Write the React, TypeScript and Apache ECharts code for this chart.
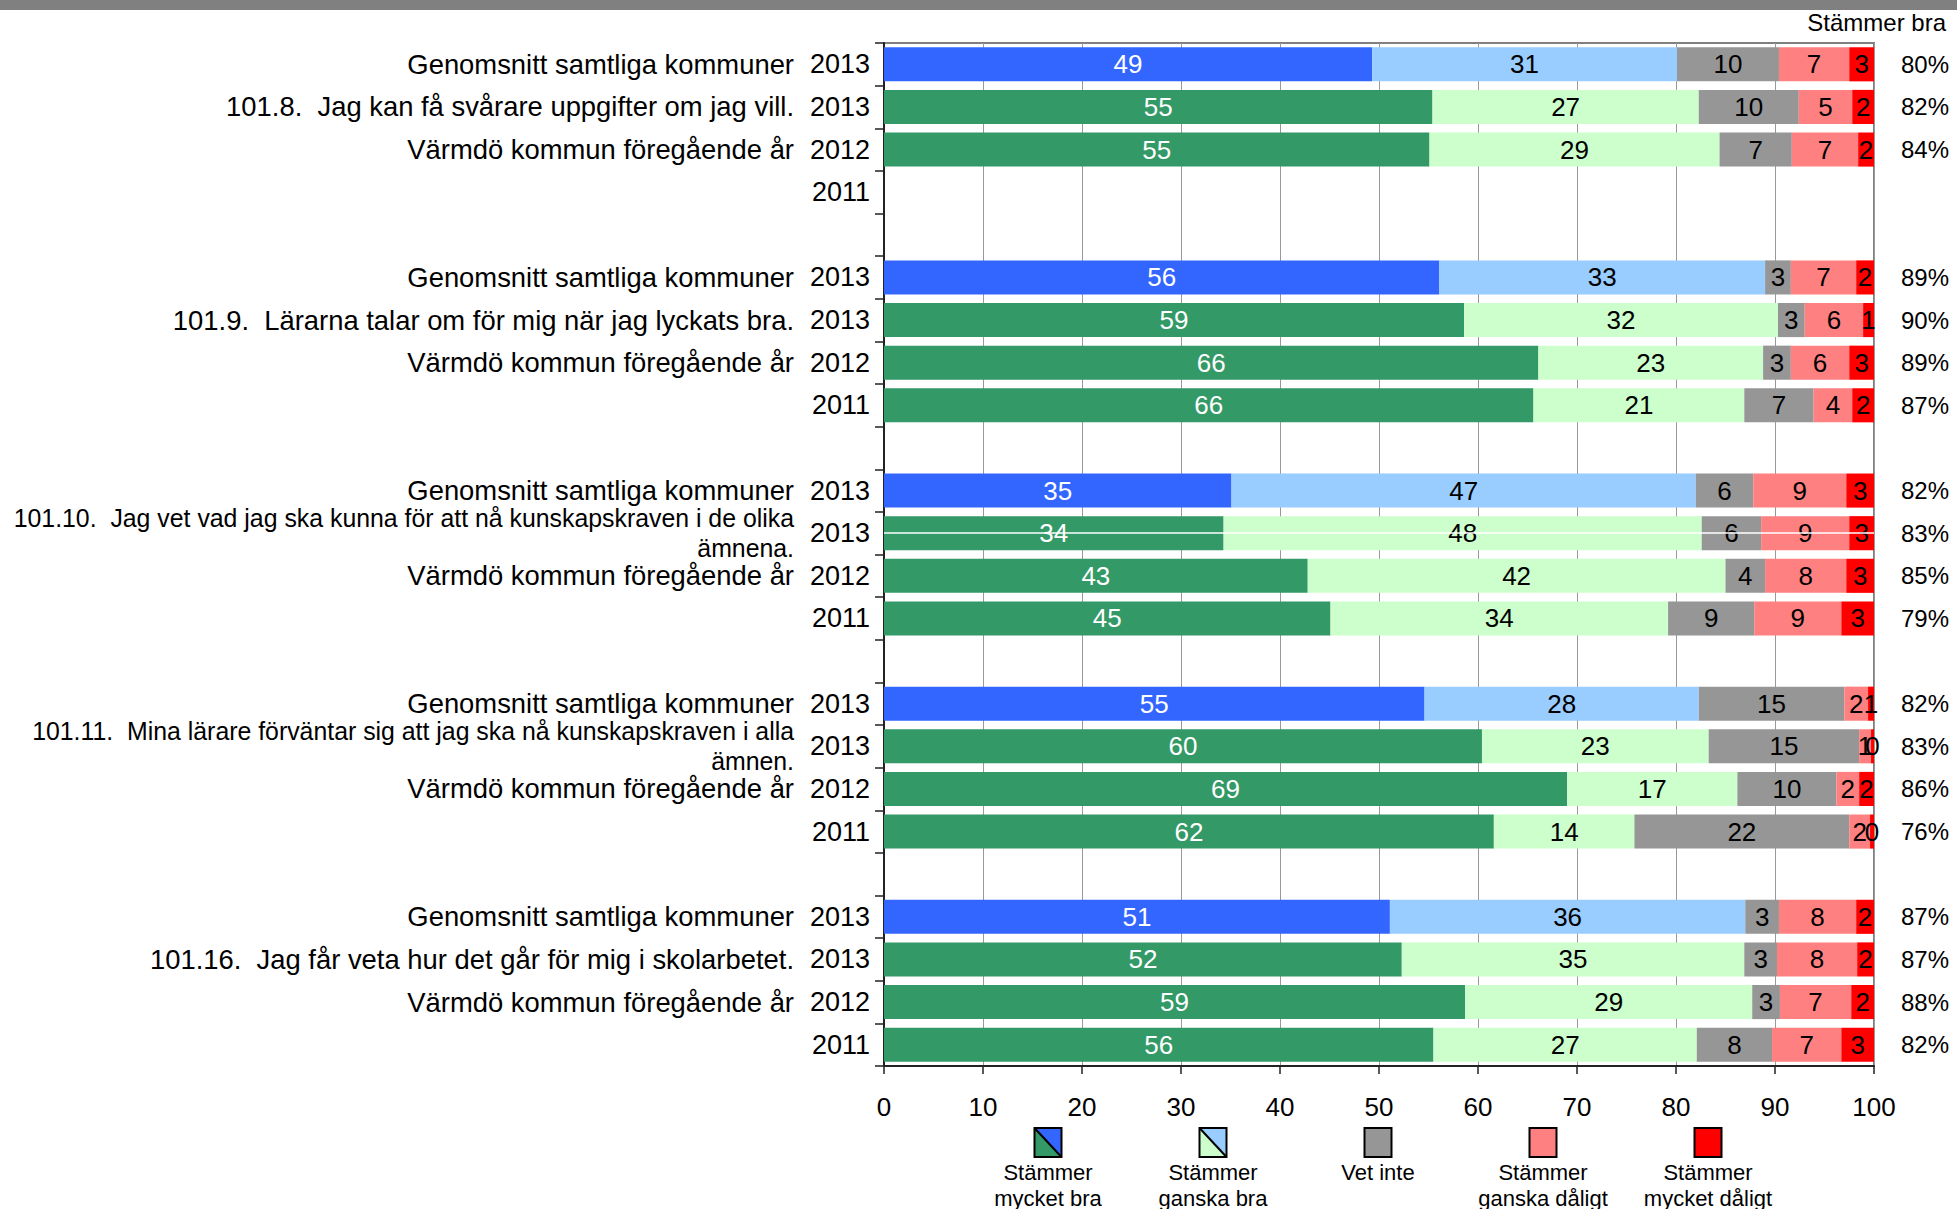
import React, { useEffect, useRef } from 'react';
import * as echarts from 'echarts';

const FONT = '"Liberation Sans", Arial, Helvetica, sans-serif';

// Row labels (top to bottom); blank strings are separator rows
const rowLabels = [
  'Genomsnitt samtliga kommuner',
  '101.8.  Jag kan få svårare uppgifter om jag vill.',
  'Värmdö kommun föregående år',
  '',
  '',
  'Genomsnitt samtliga kommuner',
  '101.9.  Lärarna talar om för mig när jag lyckats bra.',
  'Värmdö kommun föregående år',
  '',
  '',
  'Genomsnitt samtliga kommuner',
  '101.10.  Jag vet vad jag ska kunna för att nå kunskapskraven i de olika\nämnena.',
  'Värmdö kommun föregående år',
  '',
  '',
  'Genomsnitt samtliga kommuner',
  '101.11.  Mina lärare förväntar sig att jag ska nå kunskapskraven i alla\nämnen.',
  'Värmdö kommun föregående år',
  '',
  '',
  'Genomsnitt samtliga kommuner',
  '101.16.  Jag får veta hur det går för mig i skolarbetet.',
  'Värmdö kommun föregående år',
  '',
];

const rowYears = [
  '2013', '2013', '2012', '2011', '',
  '2013', '2013', '2012', '2011', '',
  '2013', '2013', '2012', '2011', '',
  '2013', '2013', '2012', '2011', '',
  '2013', '2013', '2012', '2011',
];

// 'avg' = average of all municipalities (blue), 'own' = Värmdö (green)
const rowKinds = [
  'avg', 'own', 'own', 'own', '',
  'avg', 'own', 'own', 'own', '',
  'avg', 'own', 'own', 'own', '',
  'avg', 'own', 'own', 'own', '',
  'avg', 'own', 'own', 'own',
];

const seriesNames = [
  'Stämmer mycket bra',
  'Stämmer ganska bra',
  'Vet inte',
  'Stämmer ganska dåligt',
  'Stämmer mycket dåligt',
];

const mycketBra = [
  49.3, 55.4, 55.1, null, null,
  56.1, 58.6, 66.1, 65.6, null,
  35.1, 34.3, 42.8, 45.1, null,
  54.6, 60.4, 69.0, 61.6, null,
  51.1, 52.3, 58.7, 55.5,
];
const ganskaBra = [
  30.8, 26.9, 29.3, null, null,
  32.9, 31.7, 22.7, 21.3, null,
  46.9, 48.3, 42.2, 34.1, null,
  27.7, 22.9, 17.2, 14.2, null,
  35.9, 34.6, 29.0, 26.6,
];
const vetInte = [
  10.3, 10.1, 7.3, null, null,
  2.6, 2.7, 2.8, 7.0, null,
  5.8, 6.0, 4.0, 8.7, null,
  14.7, 15.2, 10.0, 21.7, null,
  3.4, 3.3, 2.8, 7.6,
];
const ganskaDaligt = [
  7.1, 5.4, 6.7, null, null,
  6.6, 5.9, 5.9, 3.9, null,
  9.4, 8.9, 8.2, 8.8, null,
  2.4, 1.2, 2.3, 2.1, null,
  7.8, 8.1, 7.2, 7.0,
];
const mycketDaligt = [
  2.5, 2.2, 1.6, null, null,
  1.8, 1.1, 2.5, 2.2, null,
  2.8, 2.5, 2.8, 3.3, null,
  0.6, 0.3, 1.5, 0.4, null,
  1.8, 1.7, 2.3, 3.3,
];

// "Stämmer bra" column (percent)
const stammerBra = [
  80, 82, 84, null, null,
  89, 90, 89, 87, null,
  82, 83, 85, 79, null,
  82, 83, 86, 76, null,
  87, 87, 88, 82,
];

const legendNames = [
  'Stämmer\nmycket bra',
  'Stämmer\nganska bra',
  'Vet inte',
  'Stämmer\nganska dåligt',
  'Stämmer\nmycket dåligt',
];

const AVG_COLORS = ['#3366FF', '#99CCFF'];
const OWN_COLORS = ['#339966', '#CCFFCC'];
const OTHER_COLORS = ['#969696', '#FF8080', '#FF0000'];

function buildOption() {
  const allValues = [mycketBra, ganskaBra, vetInte, ganskaDaligt, mycketDaligt];
  const categories = rowLabels.map((_, i) => String(i));

  const series = allValues.map((vals, si) => ({
    name: seriesNames[si],
    type: 'bar',
    stack: 'total',
    barCategoryGap: '20%',
    yAxisIndex: 0,
    data: vals.map((v, i) => {
      if (v == null) return null;
      let color;
      if (si < 2) color = rowKinds[i] === 'avg' ? AVG_COLORS[si] : OWN_COLORS[si];
      else color = OTHER_COLORS[si - 2];
      return { value: v, itemStyle: { color } };
    }),
    label: {
      show: true,
      position: 'inside',
      fontFamily: FONT,
      fontSize: 26,
      color: si === 0 ? '#FFFFFF' : '#000000',
      formatter: (p: any) => (p.value == null ? '' : String(Math.round(p.value))),
    },
    ...(si === 4
      ? {
          markLine: {
            silent: true,
            symbol: 'none',
            label: { show: false },
            lineStyle: { color: '#FFFFFF', width: 1.5, type: 'solid' },
            data: [{ yAxis: 11 }],
            z: 10,
          },
        }
      : {}),
  }));

  // Legend drawn as graphic elements (swatch above two-line text)
  const legendGraphics: any[] = [];
  const legendSwatches: string[][] = [
    [OWN_COLORS[0], AVG_COLORS[0]],
    [OWN_COLORS[1], AVG_COLORS[1]],
    [OTHER_COLORS[0]],
    [OTHER_COLORS[1]],
    [OTHER_COLORS[2]],
  ];
  const w = 27;
  const h = 29;
  legendNames.forEach((name, i) => {
    const cx = 1048 + i * 165;
    const x0 = cx - w / 2;
    const y0 = 1128;
    const sw = legendSwatches[i];
    const children: any[] = [];
    if (sw.length === 2) {
      children.push({
        type: 'polygon',
        shape: { points: [[0, 0], [0, h], [w, h]] },
        style: { fill: sw[0] },
      });
      children.push({
        type: 'polygon',
        shape: { points: [[0, 0], [w, 0], [w, h]] },
        style: { fill: sw[1] },
      });
      children.push({
        type: 'line',
        shape: { x1: 0, y1: 0, x2: w, y2: h },
        style: { stroke: '#000', lineWidth: 2 },
      });
      children.push({
        type: 'rect',
        shape: { x: 0, y: 0, width: w, height: h },
        style: { fill: 'none', stroke: '#000', lineWidth: 2 },
      });
    } else {
      children.push({
        type: 'rect',
        shape: { x: 0, y: 0, width: w, height: h },
        style: { fill: sw[0], stroke: '#000', lineWidth: 2 },
      });
    }
    legendGraphics.push({ type: 'group', x: x0, y: y0, children });
    legendGraphics.push({
      type: 'text',
      x: cx,
      y: 1159,
      style: {
        text: name,
        fill: '#000',
        fontFamily: FONT,
        fontSize: 22,
        lineHeight: 26,
        align: 'center',
        verticalAlign: 'top',
      },
    });
  });

  return {
    animation: false,
    backgroundColor: '#FFFFFF',
    textStyle: { fontFamily: FONT },
    grid: {
      left: 884,
      right: 83,
      top: 43,
      bottom: 143,
      show: true,
      borderColor: '#808080',
      borderWidth: 2,
      backgroundColor: 'transparent',
    },
    xAxis: {
      type: 'value',
      min: 0,
      max: 100,
      interval: 10,
      axisLine: { show: true, lineStyle: { color: '#222', width: 2 } },
      axisTick: { show: true, length: 8, lineStyle: { color: '#222', width: 1.5 } },
      axisLabel: { color: '#000', fontFamily: FONT, fontSize: 26, margin: 28 },
      splitLine: { show: true, lineStyle: { color: '#999999', width: 1 } },
    },
    yAxis: [
      {
        type: 'category',
        inverse: true,
        data: categories,
        position: 'left',
        axisLine: { show: true, lineStyle: { color: '#222', width: 2 } },
        axisTick: { show: true, length: 9, lineStyle: { color: '#222', width: 1.5 } },
        axisLabel: {
          interval: 0,
          margin: 14,
          color: '#000',
          fontFamily: FONT,
          fontSize: 27,
          formatter: (_v: string, i: number) => rowYears[i],
        },
        splitLine: { show: false },
      },
      {
        type: 'category',
        inverse: true,
        data: categories,
        position: 'left',
        axisLine: { show: false },
        axisTick: { show: false },
        axisLabel: {
          interval: 0,
          margin: 90,
          color: '#000',
          fontFamily: FONT,
          formatter: (_v: string, i: number) => {
            const t = rowLabels[i];
            if (!t) return '';
            if (t.indexOf('\n') >= 0) {
              return t
                .split('\n')
                .map((s) => '{w|' + s + '}')
                .join('\n');
            }
            return '{n|' + t + '}';
          },
          rich: {
            n: { fontFamily: FONT, fontSize: 27.4, color: '#000' },
            w: { fontFamily: FONT, fontSize: 24.85, lineHeight: 30, color: '#000' },
          },
        },
        splitLine: { show: false },
      },
      {
        type: 'category',
        inverse: true,
        data: categories,
        position: 'right',
        axisLine: { show: false },
        axisTick: { show: false },
        axisLabel: {
          interval: 0,
          margin: 27,
          color: '#000',
          fontFamily: FONT,
          fontSize: 24,
          formatter: (_v: string, i: number) =>
            stammerBra[i] == null ? '' : stammerBra[i] + '%',
        },
        splitLine: { show: false },
      },
    ],
    graphic: [
      {
        type: 'rect',
        x: 0,
        y: 0,
        shape: { x: 0, y: 0, width: 1957, height: 10 },
        style: { fill: '#808080' },
      },
      {
        type: 'text',
        x: 1946,
        y: 22,
        style: {
          text: 'Stämmer bra',
          fill: '#000',
          fontFamily: FONT,
          fontSize: 24,
          align: 'right',
          verticalAlign: 'middle',
        },
      },
      ...legendGraphics,
    ],
    series,
  };
}

export default function App() {
  const ref = useRef<HTMLDivElement>(null);
  useEffect(() => {
    if (!ref.current) return;
    const chart = echarts.init(ref.current, undefined, { renderer: 'svg' });
    chart.setOption(buildOption() as any);
    return () => {
      chart.dispose();
    };
  }, []);
  return (
    <div
      ref={ref}
      style={{ position: 'fixed', left: 0, top: 0, width: 1957, height: 1209, background: '#fff' }}
    />
  );
}
